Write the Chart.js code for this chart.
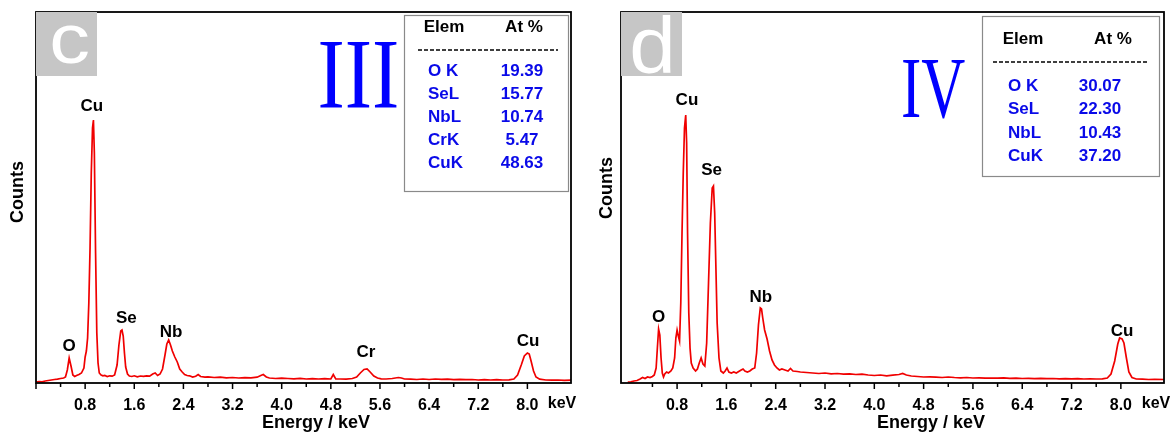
<!DOCTYPE html>
<html><head><meta charset="utf-8">
<script src="https://cdn.jsdelivr.net/npm/chart.js@4.4.1/dist/chart.umd.min.js"></script>
<style>
html,body{margin:0;padding:0;background:#fff;overflow:hidden}
#wrap{position:relative;width:1172px;height:432px;background:#fff}
canvas{position:absolute;top:0}
#cc{left:0}
#cd{left:590px}
</style></head><body>
<div id="wrap"><canvas id="cc" width="590" height="432"></canvas><canvas id="cd" width="582" height="432"></canvas></div>
<script>
// ---------- data: panel c ----------
const energyC = [0.00,0.05,0.10,0.15,0.20,0.25,0.30,0.35,0.40,0.45,0.48,0.51,0.54,0.57,0.60,0.63,0.66,0.70,0.74,0.78,0.80,0.82,0.84,0.86,0.88,0.90,0.92,0.935,0.95,0.97,0.99,1.01,1.03,1.06,1.09,1.12,1.16,1.20,1.24,1.28,1.32,1.35,1.38,1.40,1.42,1.44,1.46,1.49,1.52,1.56,1.60,1.65,1.70,1.75,1.80,1.85,1.90,1.94,1.98,2.02,2.06,2.10,2.13,2.16,2.19,2.22,2.26,2.30,2.34,2.38,2.42,2.46,2.50,2.55,2.60,2.64,2.68,2.75,2.80,2.90,3.00,3.10,3.20,3.30,3.40,3.50,3.60,3.66,3.70,3.75,3.80,3.90,4.00,4.10,4.20,4.30,4.40,4.50,4.60,4.70,4.80,4.84,4.88,4.95,5.05,5.15,5.22,5.28,5.34,5.39,5.44,5.50,5.56,5.62,5.70,5.80,5.90,5.95,6.00,6.10,6.20,6.30,6.40,6.50,6.60,6.70,6.80,6.90,7.00,7.10,7.20,7.30,7.40,7.50,7.60,7.70,7.78,7.84,7.90,7.95,8.00,8.03,8.06,8.10,8.14,8.20,8.30,8.40,8.50,8.60,8.72];
const countsC = [10,15,12,20,25,30,35,38,45,50,60,130,250,170,80,65,75,85,100,150,260,320,450,800,1350,2100,2550,2630,2300,1300,500,200,100,80,72,75,65,72,68,80,180,380,520,530,470,300,160,90,70,65,72,62,70,66,72,68,90,100,75,90,140,280,390,430,380,320,260,210,140,110,85,75,72,60,68,85,65,58,62,55,58,52,55,50,54,52,58,75,85,60,50,45,48,45,42,46,40,44,40,43,40,85,42,40,38,45,60,100,135,140,110,70,50,42,40,45,55,50,40,38,35,40,35,40,36,38,34,36,33,35,30,34,30,33,30,32,40,80,180,270,300,290,220,120,60,38,30,28,30,26,28];

// ---------- data: panel d ----------
const energyD = [0.00,0.05,0.10,0.15,0.20,0.24,0.28,0.32,0.36,0.40,0.43,0.46,0.48,0.50,0.52,0.54,0.56,0.58,0.60,0.63,0.66,0.70,0.73,0.76,0.78,0.80,0.82,0.84,0.86,0.88,0.90,0.92,0.94,0.955,0.97,0.99,1.01,1.03,1.06,1.10,1.13,1.16,1.19,1.22,1.25,1.28,1.31,1.34,1.37,1.39,1.41,1.43,1.45,1.48,1.51,1.55,1.58,1.61,1.64,1.68,1.72,1.76,1.80,1.84,1.87,1.90,1.94,1.98,2.02,2.06,2.09,2.12,2.15,2.17,2.19,2.22,2.26,2.30,2.34,2.38,2.42,2.46,2.50,2.55,2.60,2.64,2.68,2.75,2.80,2.90,3.00,3.10,3.20,3.30,3.40,3.50,3.60,3.70,3.80,3.90,4.00,4.10,4.20,4.30,4.40,4.46,4.52,4.60,4.70,4.80,4.90,5.00,5.10,5.20,5.30,5.40,5.50,5.60,5.70,5.80,5.90,6.00,6.10,6.20,6.30,6.40,6.50,6.60,6.70,6.80,6.90,7.00,7.10,7.20,7.30,7.40,7.50,7.60,7.70,7.78,7.84,7.90,7.95,7.98,8.02,8.05,8.09,8.13,8.18,8.25,8.35,8.45,8.55,8.70];
const countsD = [10,12,20,25,40,55,45,60,55,65,80,150,350,540,480,250,100,60,90,110,100,120,150,250,450,530,470,420,800,1500,2100,2550,2680,2400,1500,700,350,200,150,120,140,200,250,190,170,400,1000,1600,1950,1970,1700,1150,600,250,120,100,120,150,110,100,110,100,115,130,140,120,110,120,140,150,300,580,750,740,650,530,440,320,230,180,150,130,140,130,120,145,120,115,110,105,100,95,100,92,95,88,92,85,88,80,75,80,72,78,85,95,80,70,65,60,62,58,55,60,55,52,55,50,52,48,50,48,52,46,48,45,47,44,46,43,45,42,44,41,43,40,42,40,42,50,90,220,390,450,440,400,250,110,55,40,38,35,37,35];

// axis settings
const yMax = 3710;
const xRangeC = [0, 8.71];
const xRangeD = [-0.11, 8.70];
const minorStep = 0.4;
const labelStep = 0.8;

// peak annotations (element, energy keV, counts of label centre)
const peakNamesC = ['O','Cu','Se','Nb','Cr','Cu'];
const peakEnergyC = [0.54,0.91,1.47,2.20,5.37,8.01];
const peakCountC = [370,2770,650,510,310,420];
const peakNamesD = ['O','Cu','Se','Nb','Cu'];
const peakEnergyD = [0.50,0.96,1.36,2.16,8.02];
const peakCountD = [660,2830,2130,860,520];

// composition tables
const tableElemC = ['O K','SeL','NbL','CrK','CuK'];
const tableAtC = ['19.39','15.77','10.74','5.47','48.63'];
const tableElemD = ['O K','SeL','NbL','CuK'];
const tableAtD = ['30.07','22.30','10.43','37.20'];

const SANS = "'Liberation Sans', Arial, sans-serif";
const SERIF = "'Liberation Serif', 'Times New Roman', serif";
const BLUE = '#0a0ae8';

function isMult(v, s){ const r = v / s; return Math.abs(r - Math.round(r)) < 1e-6; }

function drawInk(ctx, text, family, weight, cx, baseline, inkH, inkW, color){
  ctx.save();
  ctx.font = weight + ' 100px ' + family;
  let m = ctx.measureText(text);
  const size = 100 * inkH / m.actualBoundingBoxAscent;
  ctx.font = weight + ' ' + size + 'px ' + family;
  m = ctx.measureText(text);
  const w = m.actualBoundingBoxLeft + m.actualBoundingBoxRight;
  const sx = inkW / w;
  ctx.translate(cx, baseline);
  ctx.scale(sx, 1);
  ctx.fillStyle = color;
  ctx.textAlign = 'left';
  ctx.textBaseline = 'alphabetic';
  ctx.fillText(text, -w/2 + m.actualBoundingBoxLeft, 0);
  ctx.restore();
}

function decor(cfg){
  return {
    id: 'decor',
    afterDraw(chart){
      const ctx = chart.ctx, a = chart.chartArea, xs = chart.scales.x, ys = chart.scales.y;
      ctx.save();
      // frame
      ctx.strokeStyle = '#000'; ctx.lineWidth = 1.8;
      ctx.strokeRect(a.left, a.top, a.right - a.left, a.bottom - a.top);
      // tick marks
      ctx.lineWidth = 1.5;
      xs.ticks.forEach(t => {
        const px = xs.getPixelForValue(t.value);
        const len = (isMult(t.value, labelStep)) ? 6 : 4;
        ctx.beginPath(); ctx.moveTo(px, a.bottom); ctx.lineTo(px, a.bottom + len); ctx.stroke();
      });
      // panel letter box
      ctx.fillStyle = '#c6c6c6';
      ctx.fillRect(a.left, a.top, 61, 64);
      drawInk(ctx, cfg.letter, SANS, 'normal', cfg.letterX, cfg.letterBase, cfg.letterH, cfg.letterW, '#fff');
      // roman numeral
      drawInk(ctx, cfg.roman, SERIF, 'normal', cfg.romanX, cfg.romanBase, cfg.romanH, cfg.romanW, '#0000ff');
      // table
      const T = cfg.table;
      ctx.strokeStyle = '#8a8a8a'; ctx.lineWidth = 1.2;
      ctx.strokeRect(T.x0 + 0.5, T.y0 + 0.5, T.x1 - T.x0, T.y1 - T.y0);
      ctx.font = 'bold 17px ' + SANS; ctx.textBaseline = 'middle'; ctx.textAlign = 'center'; ctx.fillStyle = '#000';
      ctx.fillText('Elem', T.h1x, T.hy);
      ctx.fillText('At %', T.h2x, T.hy);
      ctx.strokeStyle = '#000'; ctx.lineWidth = 1.5; ctx.setLineDash([4, 2]);
      ctx.beginPath(); ctx.moveTo(T.dx0, T.dy); ctx.lineTo(T.dx1, T.dy); ctx.stroke();
      ctx.setLineDash([]);
      ctx.fillStyle = BLUE;
      cfg.elems.forEach((e, i) => {
        const y = T.ry0 + i * T.rdy;
        ctx.textAlign = 'left'; ctx.fillText(e, T.lx, y);
        ctx.textAlign = 'center'; ctx.fillText(cfg.ats[i], T.vx, y);
      });
      // peak labels
      ctx.fillStyle = '#000'; ctx.font = 'bold 17px ' + SANS; ctx.textAlign = 'center'; ctx.textBaseline = 'middle';
      cfg.peakNames.forEach((n, i) => {
        ctx.fillText(n, xs.getPixelForValue(cfg.peakE[i]), ys.getPixelForValue(cfg.peakC[i]));
      });
      // axis titles
      ctx.font = 'bold 16px ' + SANS; ctx.textBaseline = 'middle';
      ctx.fillText('keV', cfg.kevX, 404);
      ctx.font = 'bold 18px ' + SANS; ctx.textBaseline = 'alphabetic';
      ctx.fillText('Energy / keV', cfg.titleX, 428);
      ctx.save();
      ctx.translate(cfg.countsX, cfg.countsY); ctx.rotate(-Math.PI/2);
      ctx.font = 'bold 18px ' + SANS; ctx.textBaseline = 'middle'; ctx.textAlign = 'center';
      ctx.fillText('Counts', 0, 0);
      ctx.restore();
      ctx.restore();
    }
  };
}

function makeChart(id, ex, cy, xr, padL, padR, cfg){
  const pts = ex.map((e, i) => ({x: e, y: cy[i]}));
  return new Chart(document.getElementById(id), {
    type: 'scatter',
    data: {datasets: [{data: pts, showLine: true, borderColor: '#f00000', borderWidth: 1.7, pointRadius: 0, tension: 0}]},
    options: {
      responsive: false, animation: false, events: [],
      layout: {padding: {left: padL, right: padR, top: 12, bottom: 0}},
      plugins: {legend: {display: false}, tooltip: {enabled: false}},
      scales: {
        x: {
          type: 'linear', min: xr[0], max: xr[1],
          afterFit: s => { s.height = 49; },
          afterBuildTicks: s => { s.ticks = s.ticks.filter(t => isMult(t.value, minorStep) && t.value > -1e-9 && t.value <= xr[1]); },
          grid: {display: false, drawTicks: false},
          border: {display: false},
          ticks: {
            stepSize: minorStep, autoSkip: false, maxRotation: 0, padding: 13,
            color: '#000', font: {family: SANS, size: 16, weight: 'bold'},
            callback: v => (isMult(v, labelStep) && v > 0.01) ? v.toFixed(1) : ''
          }
        },
        y: {type: 'linear', min: 0, max: yMax, display: false}
      }
    },
    plugins: [decor(cfg)]
  });
}

makeChart('cc', energyC, countsC, xRangeC, 36, 19, {
  letter: 'c', letterX: 70, letterBase: 63, letterH: 38, letterW: 37,
  roman: 'III', romanX: 358.5, romanBase: 107, romanH: 64, romanW: 77,
  table: {x0: 404, y0: 15, x1: 568, y1: 191, h1x: 444, h2x: 524, hy: 27, dx0: 418, dx1: 558, dy: 50, lx: 428, vx: 522, ry0: 71, rdy: 23},
  elems: tableElemC, ats: tableAtC,
  peakNames: peakNamesC, peakE: peakEnergyC, peakC: peakCountC,
  kevX: 562, titleX: 316, countsX: 18, countsY: 192
});
makeChart('cd', energyD, countsD, xRangeD, 31, 8, {
  letter: 'd', letterX: 62, letterBase: 73, letterH: 58, letterW: 39,
  roman: 'IV', romanX: 344, romanBase: 117, romanH: 57, romanW: 62,
  table: {x0: 392, y0: 16, x1: 569, y1: 176, h1x: 433, h2x: 523, hy: 39, dx0: 403, dx1: 558, dy: 62, lx: 418, vx: 510, ry0: 86, rdy: 23.5},
  elems: tableElemD, ats: tableAtD,
  peakNames: peakNamesD, peakE: peakEnergyD, peakC: peakCountD,
  kevX: 566, titleX: 341, countsX: 17, countsY: 188
});
</script>
</body></html>
